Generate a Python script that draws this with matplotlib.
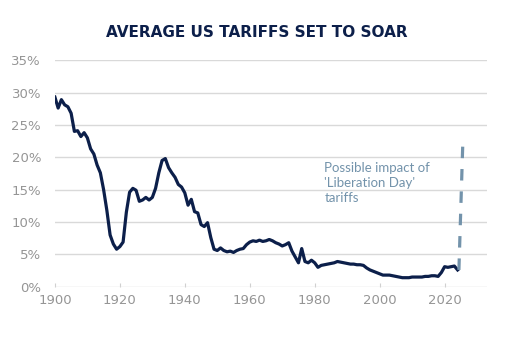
#!/usr/bin/env python3
"""Average US tariffs since 1900, with the possible 'Liberation Day' jump."""

import matplotlib

matplotlib.use("Agg")
import matplotlib.pyplot as plt

years = list(range(1900, 2025))
tariff_pct = [
    29.3, 27.6, 28.9, 28.1, 27.8, 26.8, 24.0, 24.1, 23.2, 23.8,
    23.0, 21.3, 20.5, 18.8, 17.6, 15.0, 11.8, 8.0, 6.6, 5.8,
    6.2, 6.9, 11.5, 14.6, 15.2, 14.9, 13.2, 13.4, 13.8, 13.4,
    13.8, 15.2, 17.6, 19.5, 19.8, 18.4, 17.6, 16.9, 15.8, 15.4,
    14.5, 12.6, 13.5, 11.6, 11.4, 9.6, 9.3, 9.9, 7.6, 5.8,
    5.6, 6.0, 5.6, 5.4, 5.5, 5.3, 5.6, 5.8, 5.9, 6.5,
    6.9, 7.1, 7.0, 7.2, 7.0, 7.1, 7.3, 7.1, 6.8, 6.6,
    6.3, 6.5, 6.8, 5.5, 4.6, 3.7, 5.9, 3.9, 3.7, 4.1,
    3.7, 3.0, 3.3, 3.4, 3.5, 3.6, 3.7, 3.9, 3.8, 3.7,
    3.6, 3.5, 3.5, 3.4, 3.4, 3.3, 2.9, 2.6, 2.4, 2.2,
    2.0, 1.8, 1.8, 1.8, 1.7, 1.6, 1.5, 1.4, 1.4, 1.4,
    1.5, 1.5, 1.5, 1.5, 1.6, 1.6, 1.7, 1.7, 1.6, 2.2,
    3.1, 3.0, 3.1, 3.2, 2.6,
]

# possible impact of the announced tariffs
impact_years = [2024.4, 2025.6]
impact_pct = [2.6, 22.2]

x_ticks = [1900, 1920, 1940, 1960, 1980, 2000, 2020]
y_ticks = [0, 5, 10, 15, 20, 25, 30, 35]

NAVY = "#0c1f4a"
SLATE = "#7393ab"
GREY = "#959595"

fig = plt.figure(figsize=(5.13, 3.58), dpi=100)
ax = fig.add_axes([0.107, 0.199, 0.842, 0.633])

ax.plot(years, tariff_pct, color=NAVY, linewidth=2.3, solid_joinstyle="round")
ax.plot(impact_years, impact_pct, color=SLATE, linewidth=2.3,
        dashes=(3.6, 3.4), solid_capstyle="butt")

ax.text(1983, 16.0, "Possible impact of\n'Liberation Day'\ntariffs",
        family="Lato", fontsize=9.5, color=SLATE, va="center", ha="left",
        linespacing=1.3)

ax.set_xlim(1900, 2033)
ax.set_ylim(0, 35)
ax.set_xticks(x_ticks)
ax.set_yticks(y_ticks)
ax.set_yticklabels([f"{v}%" for v in y_ticks])
ax.yaxis.grid(True, color="#d9d9d9", linewidth=1.0)
ax.set_axisbelow(True)
for side in ("top", "right", "left", "bottom"):
    ax.spines[side].set_visible(False)
ax.tick_params(axis="y", length=0, pad=10, labelsize=9.5, labelcolor=GREY)
ax.tick_params(axis="x", direction="in", length=3, color="#d0d0d0",
               pad=5, labelsize=9.5, labelcolor=GREY)

fig.text(0.5, 0.91, "AVERAGE US TARIFFS SET TO SOAR", ha="center", va="center",
         fontsize=11, fontweight="bold", color=NAVY, family="DejaVu Sans")

fig.savefig("out.png", dpi=100)
